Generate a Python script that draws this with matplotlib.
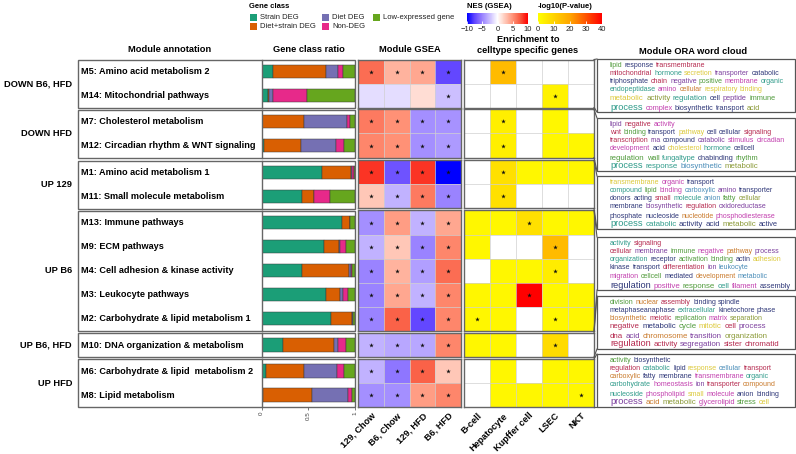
import numpy as np
import matplotlib
matplotlib.use("Agg")
import matplotlib.pyplot as plt
from matplotlib.colors import LinearSegmentedColormap, Normalize
from matplotlib.patches import Rectangle
import matplotlib.cm as cm

plt.rcParams['font.family'] = ['Liberation Sans', 'DejaVu Sans']

# ---------------- data ----------------
group_names = ["DOWN B6, HFD", "DOWN HFD", "UP 129", "UP B6", "UP B6, HFD", "UP HFD"]
group_sizes = [2, 2, 2, 5, 1, 2]
modules = ["M5: Amino acid metabolism 2", "M14: Mitochondrial pathways",
           "M7: Cholesterol metabolism", "M12: Circadian rhythm & WNT signaling",
           "M1: Amino acid metabolism 1", "M11: Small molecule metabolism",
           "M13: Immune pathways", "M9: ECM pathways", "M4: Cell adhesion & kinase activity",
           "M3: Leukocyte pathways", "M2: Carbohydrate & lipid metabolism 1",
           "M10: DNA organization & metabolism",
           "M6: Carbohydrate & lipid  metabolism 2", "M8: Lipid metabolism"]

class_names = ["Strain DEG", "Diet+strain DEG", "Diet DEG", "Non-DEG", "Low-expressed gene"]
class_colors = ["#1B9E77", "#D95F02", "#7570B3", "#E7298A", "#66A61E"]
strain_deg = [0.125, 0.064, 0.0, 0.03, 0.65, 0.436, 0.857, 0.671, 0.429, 0.689, 0.743, 0.225, 0.043, 0.018]
diet_strain_deg = [0.56, 0.018, 0.45, 0.39, 0.307, 0.129, 0.089, 0.161, 0.51, 0.154, 0.221, 0.554, 0.411, 0.525]
diet_deg = [0.13, 0.043, 0.465, 0.38, 0.013, 0.0, 0.004, 0.004, 0.018, 0.032, 0.011, 0.043, 0.35, 0.386]
non_deg = [0.06, 0.364, 0.03, 0.08, 0.015, 0.168, 0.0, 0.071, 0.014, 0.046, 0.007, 0.079, 0.079, 0.036]
low_expr = [0.125, 0.511, 0.055, 0.125, 0.015, 0.268, 0.05, 0.093, 0.029, 0.079, 0.018, 0.1, 0.118, 0.036]

gsea_cols = ["129, Chow", "B6, Chow", "129, HFD", "B6, HFD"]
nes_129_chow = [6.5, -1.3, 6, 5.5, 8.5, 2.5, -4.5, -3, -5, -5, -5, -3, -3, -4.5]
nes_b6_chow = [3.5, -1.3, 5, 5, -7, -3, 4.5, 2.5, 3.5, 4, 7, -3.5, -5.5, -4.5]
nes_129_hfd = [4, 1.5, -4.5, -4.5, 8.5, 6, -3, -5, -3.8, -3, -7.5, -3.5, 7, 4.5]
nes_b6_hfd = [-7.5, -2.5, -4.3, -4, -10, -5, 4, 5.5, 6.5, 5.5, 5.5, 5.5, 2.5, 5.5]
nes_sig = [[1, 1, 1, 1], [0, 0, 0, 1]] + [[1, 1, 1, 1]] * 12

cell_cols = ["B-cell", "Hepatocyte", "Kupffer cell", "LSEC", "NKT"]
nan = np.nan
p_bcell = [nan, nan, nan, nan, nan, nan, 2, 2, nan, 2, 2, 2, nan, nan]
p_hepatocyte = [15, nan, 3.5, 3.5, 7, 7, 2, nan, 2, 2, 2, 2, 2, 2]
p_kupffer = [nan, nan, nan, nan, 2, nan, 7, nan, 2, 40, nan, nan, nan, 2]
p_lsec = [nan, 3, 2, 2, 2, nan, 2, 15, 4, 2, 2, 8, 2, 2]
p_nkt = [nan, nan, nan, 2, 2, nan, 2, nan, nan, 2, 2, nan, 2, 2]
cell_sig = [[0, 1, 0, 0, 0], [0, 0, 0, 1, 0], [0, 1, 0, 0, 0], [0, 1, 0, 0, 0],
            [0, 1, 0, 0, 0], [0, 1, 0, 0, 0], [0, 0, 1, 0, 0], [0, 0, 0, 1, 0],
            [0, 0, 0, 1, 0], [0, 0, 1, 0, 0], [1, 0, 0, 1, 0], [0, 0, 0, 1, 0],
            [0, 0, 0, 0, 0], [0, 0, 0, 0, 1]]

word_palette = {'G': '#4f9a3a', 'NV': '#2e3778', 'CR': '#b5294e', 'Y': '#dcc93a',
                'PU': '#7c3f9e', 'MG': '#c23fae', 'TL': '#2f9b8a', 'OR': '#c97a2c',
                'OL': '#8b9a38', 'LB': '#4a8db8'}
clouds = [
    ["lipid/G/s response/NV/s transmembrane/CR/s",
     "mitochondrial/CR/s hormone/TL/s secretion/Y/s transporter/PU/s catabolic/NV/s",
     "triphosphate/NV/s chain/CR/s negative/PU/s positive/G/s membrane/MG/s organic/TL/s",
     "endopeptidase/TL/s amino/MG/s cellular/OR/s respiratory/Y/s binding/Y/s",
     "metabolic/Y/l activity/OL/l regulation/TL/l cell/NV/m peptide/PU/m immune/G/m",
     "process/TL/x complex/MG/m biosynthetic/NV/m transport/NV/m acid/OL/m"],
    ["lipid/PU/s negative/CR/s activity/MG/s",
     "wnt/CR/s binding/G/s transport/NV/s pathway/Y/s cell/NV/s cellular/NV/s signaling/CR/s",
     "transcription/CR/s rna/PU/s compound/NV/s catabolic/PU/s stimulus/MG/s circadian/MG/s",
     "development/MG/s acid/NV/s cholesterol/Y/s hormone/TL/s cellcell/NV/s",
     "regulation/G/l wall/G/m fungaltype/TL/m dnabinding/NV/m rhythm/G/m",
     "process/TL/x response/TL/l biosynthetic/LB/l metabolic/OL/l"],
    ["transmembrane/Y/s organic/MG/s transport/NV/s",
     "compound/TL/s lipid/G/s binding/MG/s carboxylic/LB/s amino/PU/s transporter/NV/s",
     "donors/NV/s acting/NV/s small/CR/s molecule/TL/s anion/LB/s fatty/G/s cellular/OL/s",
     "membrane/NV/s biosynthetic/PU/s regulation/CR/s oxidoreductase/PU/s",
     "phosphate/NV/s nucleoside/NV/s nucleotide/OR/s phosphodiesterase/MG/s",
     "process/TL/x catabolic/TL/l activity/NV/l acid/NV/l metabolic/OL/l active/NV/m"],
    ["activity/TL/s signaling/CR/s",
     "cellular/CR/s membrane/PU/s immune/G/s negative/MG/s pathway/OR/s process/PU/s",
     "organization/TL/s receptor/NV/s activation/G/s binding/G/s actin/NV/s adhesion/Y/s",
     "kinase/NV/s transport/NV/s differentiation/CR/s ion/PU/s leukocyte/LB/s",
     "migration/MG/s cellcell/G/s mediated/NV/s development/OR/s metabolic/LB/s",
     "regulation/NV/x positive/MG/l response/G/l cell/TL/l filament/MG/m assembly/NV/m"],
    ["division/G/s nuclear/OR/s assembly/CR/s binding/NV/s spindle/NV/s",
     "metaphaseanaphase/NV/s extracellular/TL/s kinetochore/NV/s phase/NV/s",
     "biosynthetic/OR/s meiotic/CR/s replication/G/s matrix/MG/s separation/OL/s",
     "negative/CR/l metabolic/NV/l cycle/G/l mitotic/Y/l cell/CR/l process/PU/l",
     "dna/CR/l acid/PU/l chromosome/OR/l transition/PU/l organization/OL/l",
     "regulation/CR/x activity/CR/l segregation/PU/l sister/CR/l chromatid/CR/l"],
    ["activity/G/s biosynthetic/NV/s",
     "regulation/CR/s catabolic/TL/s lipid/NV/s response/Y/s cellular/LB/s transport/CR/s",
     "carboxylic/OR/s fatty/NV/s membrane/NV/s transmembrane/MG/s organic/TL/s",
     "carbohydrate/TL/s homeostasis/MG/s ion/PU/s transporter/CR/s compound/OR/s",
     "nucleoside/TL/s phospholipid/MG/s small/Y/s molecule/MG/s anion/NV/s binding/NV/s",
     "process/PU/x acid/OR/l metabolic/OL/l glycerolipid/MG/m stress/G/m cell/Y/m"],
]

# ---------------- figure ----------------
W, H = 796, 454
fig = plt.figure(figsize=(W / 100, H / 100), dpi=100)


def px_axes(x0, y0, x1, y1):
    return fig.add_axes([x0 / W, 1 - y1 / H, (x1 - x0) / W, (y1 - y0) / H])


ov = px_axes(0, 0, W, H)
ov.set_xlim(0, W)
ov.set_ylim(H, 0)
ov.axis('off')
ov.set_zorder(10)

BOLD = dict(fontweight='bold', fontsize=6.7)
EDGE = '#666666'

nes_cmap = LinearSegmentedColormap.from_list(
    "nes", [(0, "#0000FF"), (0.125, "#6347FF"), (0.25, "#9A83FF"), (0.375, "#CBBEFF"),
            (0.5, "#FFFFFF"), (0.625, "#FFC8B8"), (0.75, "#FF9277"), (0.875, "#F9573D"),
            (1, "#FF0000")])
nes_norm = Normalize(-10, 10)
p_cmap = LinearSegmentedColormap.from_list("pv", ["#FFFF00", "#FFA500", "#FF0000"])
p_norm = Normalize(0, 40)

nes_mat = np.array([nes_129_chow, nes_b6_chow, nes_129_hfd, nes_b6_hfd]).T
p_mat = np.array([p_bcell, p_hepatocyte, p_kupffer, p_lsec, p_nkt]).T
ratio_mat = np.array([strain_deg, diet_strain_deg, diet_deg, non_deg, low_expr]).T
nes_sig = np.array(nes_sig)
cell_sig = np.array(cell_sig)

# header titles
ov.text(170, 50, "Module annotation", ha='center', va='center', **BOLD)
ov.text(309, 50, "Gene class ratio", ha='center', va='center', **BOLD)
ov.text(410, 50, "Module GSEA", ha='center', va='center', **BOLD)
ov.text(528, 45, "Enrichment to\ncelltype specific genes", ha='center', va='center',
        linespacing=1.15, **BOLD)
ov.text(693, 51, "Module ORA word cloud", ha='center', va='center', **BOLD)

# legend
ov.text(249, 6, "Gene class", ha='left', va='center', fontsize=5.5, fontweight='bold')
leg_pos = [(250, 14), (250, 23), (322, 14), (322, 23), (373, 14)]
for (lx, ly), name, col in zip(leg_pos, class_names, class_colors):
    ov.add_patch(Rectangle((lx, ly), 7, 7, color=col, lw=0))
    ov.text(lx + 10, ly + 3.6, name, ha='left', va='center', fontsize=5.5, color='#222')

# colorbars
cax1 = px_axes(467, 13, 528, 24)
cb1 = fig.colorbar(cm.ScalarMappable(norm=nes_norm, cmap=nes_cmap), cax=cax1,
                   orientation='horizontal', ticks=[-10, -5, 0, 5, 10])
cax2 = px_axes(538, 13, 602, 24)
cb2 = fig.colorbar(cm.ScalarMappable(norm=p_norm, cmap=p_cmap), cax=cax2,
                   orientation='horizontal', ticks=[0, 10, 20, 30, 40])
for cb in (cb1, cb2):
    cb.outline.set_visible(False)
    cb.ax.tick_params(labelsize=5.5, length=2, width=0.6, color='white', direction='in',
                      pad=1.5, labelcolor='#222')
ov.text(467, 6, "NES (GSEA)", ha='left', va='center', fontsize=5.5, fontweight='bold')
ov.text(538, 6, "-log10(P-value)", ha='left', va='center', fontsize=5.5, fontweight='bold')

group_tops = [59.5, 109.5, 160.5, 210.5, 333, 359]
ROW = 24
cloud_tops = [59, 118, 176, 237, 296, 354]
BAR_X0, BAR_X1 = 261.7, 355
GS_X0, GS_X1 = 358, 461
CT_X0, CT_X1 = 464, 594

start = 0
ng = len(group_names)
for gi, (gname, n) in enumerate(zip(group_names, group_sizes)):
    top = group_tops[gi]
    bot = top + ROW * n
    idx = slice(start, start + n)
    last = gi == ng - 1

    # annotation box
    ov.add_patch(Rectangle((78, top), BAR_X1 - 78, bot - top, fill=False, ec=EDGE, lw=1.0))
    ov.plot([BAR_X0, BAR_X0], [top, bot], color=EDGE, lw=1.0)
    ov.text(72, (top + bot) / 2, gname, ha='right', va='center', **BOLD)
    for k in range(n):
        ov.text(81, top + ROW * (k + 0.5), modules[start + k], ha='left', va='center',
                fontweight='bold', fontsize=6.55)

    # ratio bars
    axb = px_axes(BAR_X0, top, BAR_X1, bot)
    rat = ratio_mat[idx]
    ypos = np.arange(n) + 0.5
    left = np.zeros(n)
    for c in range(5):
        axb.barh(ypos, rat[:, c], left=left, height=0.58, color=class_colors[c],
                 edgecolor='#3a3a3a', linewidth=0.35)
        left += rat[:, c]
    axb.set_xlim(0, 1)
    axb.set_ylim(n, 0)
    for s in axb.spines.values():
        s.set_visible(False)
    axb.set_yticks([])
    if last:
        axb.set_xticks([0, 0.5, 1])
        axb.set_xticklabels(["0", "0.5", "1"], rotation=90, fontsize=4.5, color='#444')
        axb.tick_params(axis='x', length=2, width=0.5, pad=1, color='#444')
    else:
        axb.set_xticks([])

    # GSEA heatmap
    axg = px_axes(GS_X0, top, GS_X1, bot)
    axg.pcolormesh(nes_mat[idx], cmap=nes_cmap, norm=nes_norm)
    sr, sc = np.nonzero(nes_sig[idx])
    axg.scatter(sc + 0.5, sr + 0.5, marker='*', s=12, color='#111', linewidths=0, zorder=4)
    axg.set_xlim(0, 4)
    axg.set_ylim(n, 0)

    # celltype heatmap
    axc = px_axes(CT_X0, top, CT_X1, bot)
    axc.pcolormesh(p_mat[idx], cmap=p_cmap, norm=p_norm)
    sr, sc = np.nonzero(cell_sig[idx])
    axc.scatter(sc + 0.5, sr + 0.5, marker='*', s=12, color='#111', linewidths=0, zorder=4)
    axc.set_xlim(0, 5)
    axc.set_ylim(n, 0)

    for ax, ncol, labels in ((axg, 4, gsea_cols), (axc, 5, cell_cols)):
        ax.set_facecolor('white')
        for v in range(1, ncol):
            ax.axvline(v, color='#d0d0d0', lw=0.5)
        for h in range(1, n):
            ax.axhline(h, color='#d0d0d0', lw=0.5)
        for s in ax.spines.values():
            s.set_color(EDGE)
            s.set_linewidth(1.0)
        ax.set_yticks([])
        if last:
            ax.set_xticks(np.arange(ncol) + 0.5)
            ax.set_xticklabels(labels, rotation=45, ha='right', rotation_mode='anchor',
                               fontsize=6.6, fontweight='bold')
            ax.tick_params(axis='x', length=0, pad=3)
        else:
            ax.set_xticks([])

    # word cloud box and link
    bt = cloud_tops[gi]
    bb_ = bt + 53
    ov.add_patch(Rectangle((597, bt), 198, 53, fill=True, fc='white', ec='#555', lw=0.9))
    ov.plot([594, 597], [top, bt], color='#555', lw=0.8)
    ov.plot([594, 597], [bot, bb_], color='#555', lw=0.8)
    start += n

# word clouds
renderer = fig.canvas.get_renderer()
size_map = {'s': 5.0, 'm': 5.3, 'l': 5.7, 'x': 6.7}
baselines = [8, 16, 24, 32, 41.5, 50.5]
for bi, lines in enumerate(clouds):
    top = cloud_tops[bi]
    for li, line in enumerate(lines):
        x = 610
        yb = top + baselines[li]
        for tok in line.split():
            word, ck, sk = tok.split('/')
            fs = size_map[sk]
            col = word_palette[ck]
            t = ov.text(x, yb, word, color=col, fontsize=fs, ha='left', va='baseline')
            ext = t.get_window_extent(renderer)
            x += ext.width + fs * 1.389 * 0.3

fig.savefig("out.png", dpi=100)
